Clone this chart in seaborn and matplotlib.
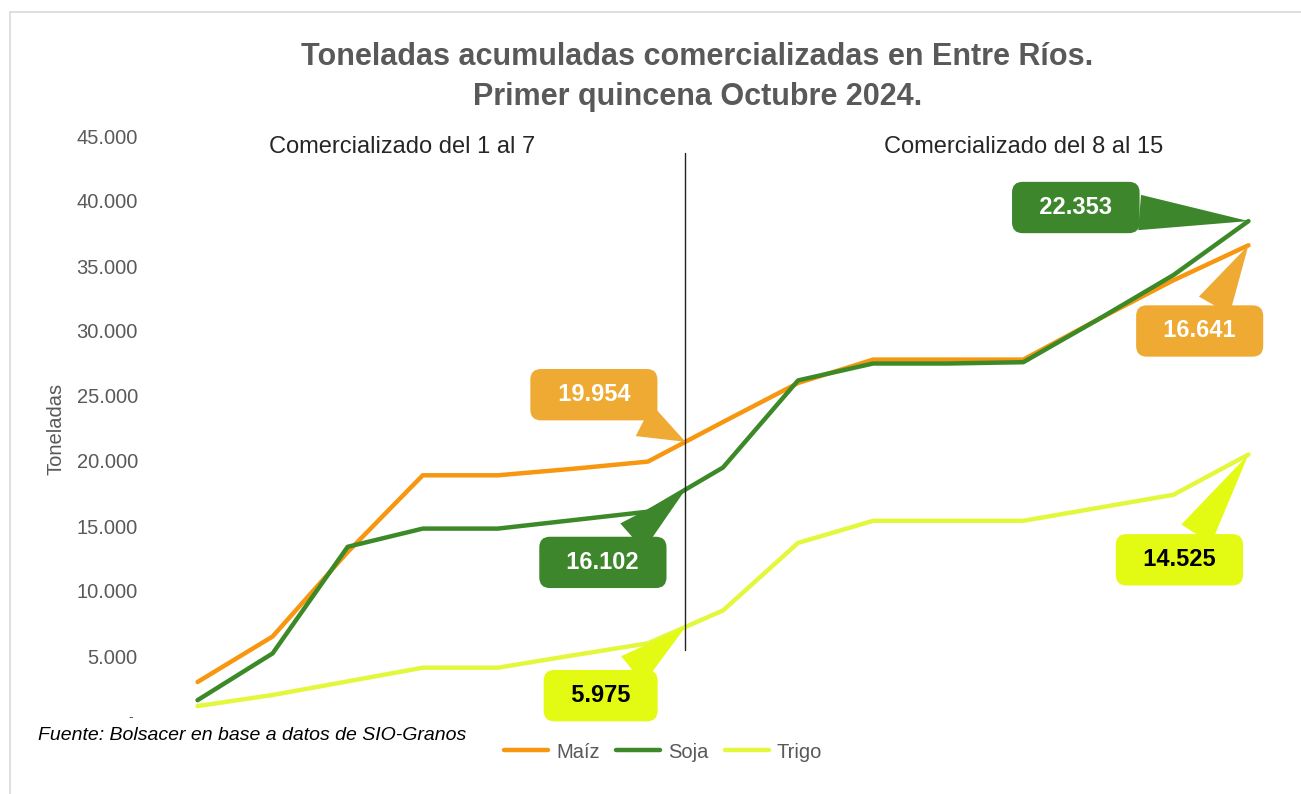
"""
Toneladas acumuladas comercializadas en Entre Ríos - primera quincena octubre 2024
"""
import numpy as np
import pandas as pd
import matplotlib
matplotlib.use('Agg')
import matplotlib.pyplot as plt
import matplotlib.transforms as mtransforms
from matplotlib.lines import Line2D
import seaborn as sns

# Datos
dias = list(range(1, 16))
maiz = [3000, 6500, 13000, 18900, 18900, 19400, 19954, 23000, 26000, 27800, 27800, 27800, 30900, 33900, 36595]
soja = [1600, 5200, 13400, 14800, 14800, 15450, 16102, 19500, 26200, 27500, 27500, 27600, 30900, 34300, 38455]
trigo = [1150, 2000, 3050, 4100, 4100, 5050, 5975, 8500, 13700, 15400, 15400, 15400, 16400, 17400, 20500]
cultivos = ['Maíz', 'Soja', 'Trigo']
y_ticks = [0, 5000, 10000, 15000, 20000, 25000, 30000, 35000, 40000, 45000]
y_tick_labels = ['-', '5.000', '10.000', '15.000', '20.000', '25.000', '30.000', '35.000', '40.000', '45.000']

# Valores de las etiquetas (comercializado en cada semana)
etiquetas_sem1 = ['19.954', '16.102', '5.975']
etiquetas_sem2 = ['16.641', '22.353', '14.525']

line_colors = {'Maíz': '#F7960F', 'Soja': '#3C8A27', 'Trigo': '#E3F83C'}
box_colors = {'Maíz': '#EFAA33', 'Soja': '#3D862C', 'Trigo': '#E3FA12'}
box_text = {'Maíz': 'white', 'Soja': 'white', 'Trigo': 'black'}

df = pd.DataFrame({
    'dia': dias * 3,
    'toneladas': maiz + soja + trigo,
    'cultivo': [c for c in cultivos for _ in dias],
})
series = {'Maíz': maiz, 'Soja': soja, 'Trigo': trigo}

sns.set_theme(style='white')
plt.rcParams['font.family'] = ['Liberation Sans', 'DejaVu Sans']

fig = plt.figure(figsize=(13.01, 7.94), dpi=100)
ax = fig.add_axes([160 / 1301, 1 - 721 / 794, (1286 - 160) / 1301, (721 - 136) / 794])

sns.lineplot(data=df, x='dia', y='toneladas', hue='cultivo', palette=line_colors,
             linewidth=3.2, ax=ax, legend=False)

ax.set_xlim(0.5, 15.5)
ax.set_ylim(0, 45000)
ax.set_xticks([])
ax.set_yticks(y_ticks)
ax.set_yticklabels(y_tick_labels, fontsize=14.5, color='#595959')
ax.tick_params(axis='y', length=0, pad=16)
ax.set_xlabel('')
ax.set_ylabel('Toneladas', fontsize=14.5, color='#595959', labelpad=8)
sns.despine(ax=ax, left=True, bottom=True)

# el "-" del cero: más chico y un poco más arriba para no pisar la fuente
zero_lbl = ax.get_yticklabels()[0]
zero_lbl.set_fontsize(10)
zero_lbl.set_transform(zero_lbl.get_transform() +
                       mtransforms.ScaledTranslation(-5 / 100, 5 / 100, fig.dpi_scale_trans))

# Línea divisoria entre semanas
ax.axvline(7.5, ymin=0.121, ymax=0.971, color='#222222', linewidth=1.0)

ax.text(3.73, 44150, 'Comercializado del 1 al 7', fontsize=17, color='#262626',
        ha='center', va='center')
ax.text(12.0, 44150, 'Comercializado del 8 al 15', fontsize=17, color='#262626',
        ha='center', va='center')

# Llamadas (callouts)
sem1_pos = {'Maíz': (6.28, 25100), 'Soja': (6.4, 12200), 'Trigo': (6.37, 1950)}
sem2_pos = {'Maíz': (14.35, 30000), 'Soja': (12.7, 39500), 'Trigo': (14.08, 12400)}

for i, c in enumerate(cultivos):
    vals = series[c]
    target1 = (7.5, np.interp(7.5, dias, vals))
    target2 = (dias[-1], vals[-1])
    for label, pos, target in [(etiquetas_sem1[i], sem1_pos[c], target1),
                               (etiquetas_sem2[i], sem2_pos[c], target2)]:
        ax.annotate(
            f'  {label}  ', xy=target, xytext=pos,
            ha='center', va='center', fontsize=17, fontweight='bold',
            color=box_text[c], zorder=5,
            bbox=dict(boxstyle='round,pad=0.6,rounding_size=0.45',
                      fc=box_colors[c], ec='none'),
            arrowprops=dict(arrowstyle='wedge,tail_width=1.5,shrink_factor=0.5',
                            fc=box_colors[c], ec='none', shrinkA=0, shrinkB=0),
        )

# Título
fig.text(0.536, 1 - 57 / 794, 'Toneladas acumuladas comercializadas en Entre Ríos.',
         fontsize=22, fontweight='bold', color='#595959', ha='center', va='center')
fig.text(0.536, 1 - 97 / 794, 'Primer quincena Octubre 2024.',
         fontsize=22, fontweight='bold', color='#595959', ha='center', va='center')

# Fuente
fig.text(38 / 1301, 1 - 736 / 794, 'Fuente: Bolsacer en base a datos de SIO-Granos',
         fontsize=14, style='italic', color='black', ha='left', va='center')

# Leyenda
handles = [Line2D([0], [0], color=line_colors[c], linewidth=3.2) for c in cultivos]
leg = fig.legend(handles, cultivos, loc='center', bbox_to_anchor=(663 / 1301, 1 - 752 / 794),
                 ncol=3, frameon=False, fontsize=14.5, handlelength=2.2,
                 columnspacing=0.8, handletextpad=0.4)
for t in leg.get_texts():
    t.set_color('#595959')

# Marco del área del gráfico
fig.add_artist(Line2D([10 / 1301, 1.0], [1 - 12 / 794, 1 - 12 / 794],
                      transform=fig.transFigure, color='#D9D9D9', linewidth=1.2))
fig.add_artist(Line2D([10 / 1301, 10 / 1301], [0.0, 1 - 12 / 794],
                      transform=fig.transFigure, color='#D9D9D9', linewidth=1.2))

fig.savefig('out.png', dpi=100, facecolor='white')
plt.close(fig)
